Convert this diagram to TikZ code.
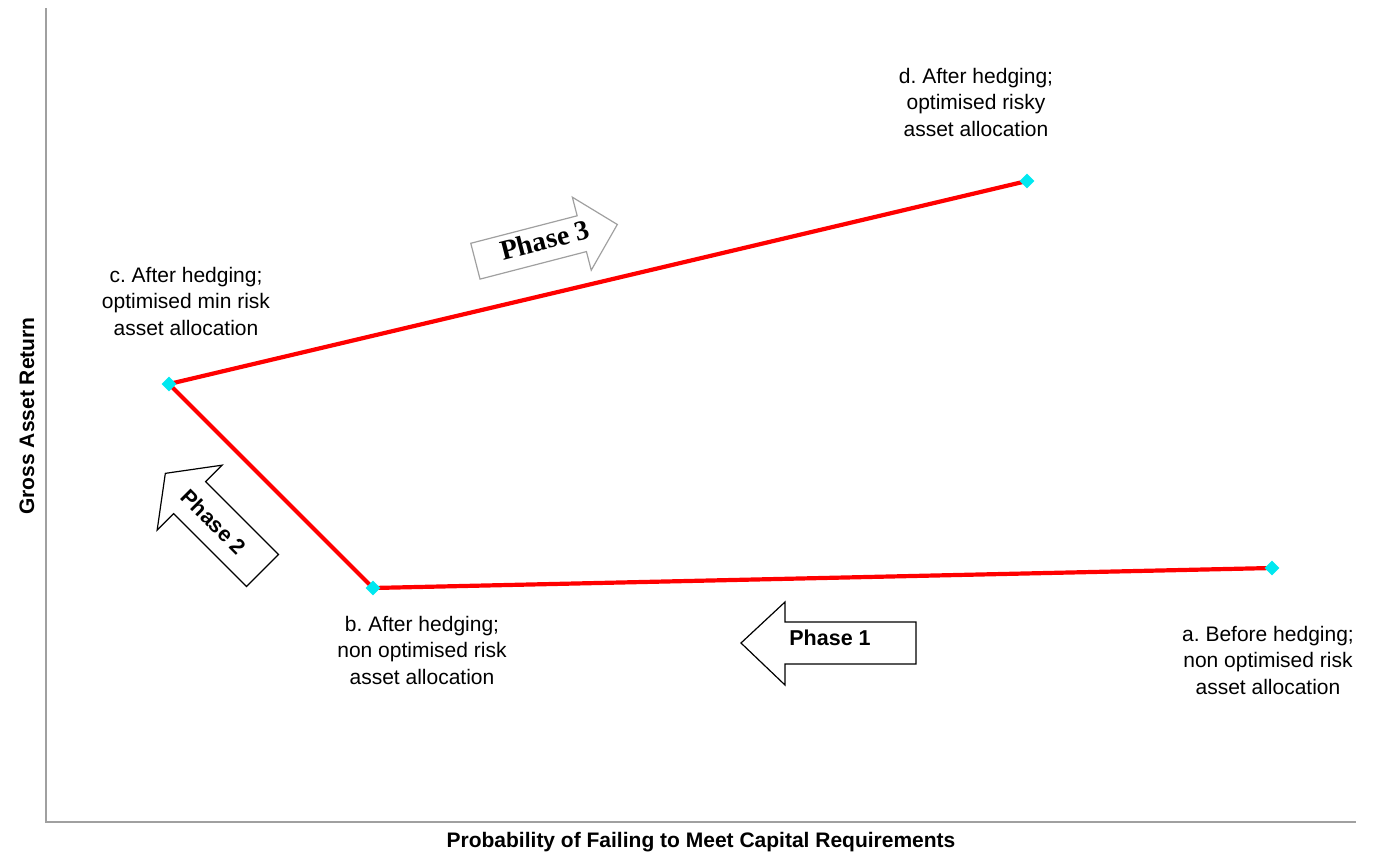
\documentclass[tikz,border=0pt]{standalone}
\usepackage{fontspec}
\setmainfont{Liberation Sans}
\newfontfamily\serifbold{Liberation Serif}
\usetikzlibrary{shapes.geometric}
\frenchspacing
\definecolor{axisgray}{RGB}{160,160,160}
\definecolor{marker}{RGB}{0,232,240}
\tikzset{
  axisline/.style={draw=axisgray, line width=1.6pt},
  curve/.style={draw=red, line width=4.2pt, line join=round},
  pointmark/.style={diamond, fill=marker, draw=none, inner sep=0pt, minimum width=15pt, minimum height=15pt},
  ptlabel/.style={align=center, font=\fontsize{21}{26.5}\selectfont},
  axislabel/.style={font=\fontsize{21}{24}\selectfont\bfseries},
  phasearrow/.style={draw=black, line width=1.2pt, fill=white, line join=miter},
  phasetext/.style={font=\fontsize{21.5}{24}\selectfont\bfseries}
}
\begin{document}
\begin{tikzpicture}[x=1pt, y=-1pt]
  \useasboundingbox (0,0) rectangle (1376,854);

  % axes
  \coordinate (origin) at (46,822);
  \coordinate (ytop) at (46,8);
  \coordinate (xend) at (1356,822);
  \draw[axisline] (ytop) -- (origin) -- (xend);
  \node[axislabel] (xlabel) at (701,842) {Probability of Failing to Meet Capital Requirements};
  \node[axislabel, rotate=90] (ylabel) at (27,416) {Gross Asset Return};

  % phase arrows
  \begin{scope}
    \draw[phasearrow] (916,622) -- (785,622) -- (785,602) -- (741,643)
      -- (785,685) -- (785,664) -- (916,664) -- cycle;
    \node[phasetext] (p1) at (830,638) {Phase 1};
  \end{scope}
  \begin{scope}[shift={(262.5,570.5)}, rotate=135]
    \draw[phasearrow] (0,-22.6) -- (103,-22.6) -- (103,-46) -- (137.4,0)
      -- (103,46) -- (103,22.6) -- (0,22.6) -- cycle;
  \end{scope}
  \node[phasetext, rotate=-45] (p2) at (214,522) {Phase 2};
  \begin{scope}[shift={(475.4,261.2)}, rotate=14.5]
    \draw[phasearrow, draw=axisgray] (0,-18.5) -- (109.9,-18.5) -- (109.9,-37.7) -- (146.6,0)
      -- (109.9,37.7) -- (109.9,18.5) -- (0,18.5) -- cycle;
  \end{scope}
  \node[font=\fontsize{28}{32}\selectfont\serifbold\bfseries, rotate=14.5] (p3) at (545,240) {Phase 3};

  % efficient path
  \coordinate (pa) at (1272,568);
  \coordinate (pb) at (373,588);
  \coordinate (pc) at (169,384);
  \coordinate (pd) at (1027,181);
  \draw[curve] (pa) -- (pb) -- (pc) -- (pd);
  \foreach \p in {pa,pb,pc,pd} \node[pointmark] at (\p) {};

  % point labels
  \node[ptlabel] (ld) at (976,102) {d. After hedging;\\optimised risky\\asset allocation};
  \node[ptlabel] (lc) at (186,301) {c. After hedging;\\optimised min risk\\asset allocation};
  \node[ptlabel] (lb) at (422,650) {b. After hedging;\\non optimised risk\\asset allocation};
  \node[ptlabel] (la) at (1268,660) {a. Before hedging;\\non optimised risk\\asset allocation};
\end{tikzpicture}
\end{document}
